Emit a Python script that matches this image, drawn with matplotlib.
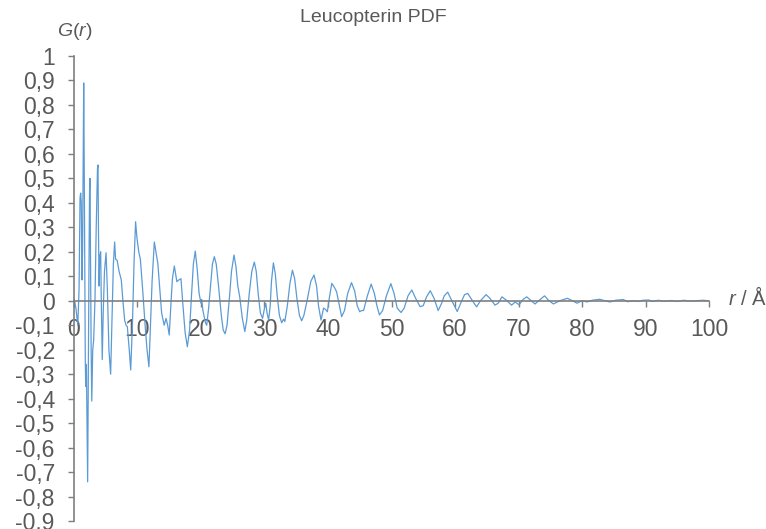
import numpy as np
import matplotlib
matplotlib.use("Agg")
import matplotlib.pyplot as plt
from matplotlib.ticker import FuncFormatter

plt.rcParams['font.family'] = ['Liberation Sans', 'DejaVu Sans']
plt.rcParams['mathtext.fontset'] = 'custom'
plt.rcParams['mathtext.rm'] = 'Liberation Sans'
plt.rcParams['mathtext.it'] = 'Liberation Sans:italic'

# r in Angstrom, G(r)
r_vals = [
    0.0, 0.3, 0.6, 0.8, 0.95, 1.05, 1.15, 1.25, 1.35, 1.45, 1.53, 1.6, 1.7, 1.78, 1.85,
    1.95, 2.05, 2.15, 2.25, 2.35, 2.45, 2.52, 2.6, 2.7, 2.8, 2.95, 3.1, 3.3, 3.5, 3.7,
    3.78, 3.85, 3.95, 4.05, 4.2, 4.3, 4.45, 4.6, 4.8, 5.05, 5.25, 5.5, 5.77, 6.0, 6.2,
    6.4, 6.55, 6.8, 7.1, 7.45, 7.7, 7.98, 8.2, 8.4, 8.7, 8.93, 9.2, 9.45, 9.7, 9.9,
    10.2, 10.45, 10.8, 11.2, 11.5, 11.8, 12.05, 12.3, 12.65, 12.9, 13.2, 13.5, 13.8, 14.2, 14.5,
    14.75, 15.0, 15.25, 15.5, 15.8, 16.0, 16.2, 16.5, 16.85, 17.1, 17.5, 17.85, 18.2, 18.5, 18.8,
    19.1, 19.4, 19.7, 20.0, 20.1, 20.3, 20.7, 20.9, 21.2, 21.5, 21.8, 22.1, 22.4, 22.8, 23.2,
    23.5, 23.8, 24.1, 24.5, 24.8, 25.2, 25.5, 25.8, 26.1, 26.5, 26.9, 27.2, 27.6, 28.0, 28.4,
    28.7, 29.0, 29.35, 29.7, 30.0, 30.2, 30.4, 30.65, 30.9, 31.1, 31.4, 31.7, 32.0, 32.35, 32.7,
    33.0, 33.2, 33.6, 34.0, 34.4, 34.75, 35.1, 35.5, 35.85, 36.2, 36.7, 37.3, 37.8, 38.2, 38.5,
    38.9, 39.3, 39.6, 39.9, 40.2, 40.6, 41.0, 41.35, 41.8, 42.15, 42.6, 43.1, 43.7, 44.2, 44.6,
    45.0, 45.3, 45.6, 46.2, 46.8, 47.3, 47.7, 48.1, 48.6, 49.2, 49.9, 50.4, 50.9, 51.5, 52.0,
    52.6, 53.2, 53.8, 54.5, 55.0, 55.5, 56.1, 56.7, 57.35, 57.9, 58.3, 58.85, 59.5, 60.35, 60.9,
    61.5, 62.0, 62.5, 63.0, 63.4, 64.0, 64.9, 65.5, 66.3, 66.8, 67.4, 68.2, 68.9, 69.5, 70.1,
    70.7, 71.3, 72.0, 72.6, 73.4, 74.1, 74.8, 75.5, 76.5, 77.7, 78.5, 79.2, 80.0, 80.8, 81.6,
    82.8, 83.6, 84.4, 85.3, 86.5, 87.2, 88.0, 88.8, 89.6, 90.5, 91.2, 92.0, 93.0, 94.0, 95.0,
    96.0, 97.0, 98.0, 99.0, 100.0,
]
g_vals = [
    0.01, -0.03, -0.1, 0.05, 0.42, 0.44, 0.40, 0.085, 0.2, 0.6, 0.89, 0.6, 0.1, -0.25, -0.35,
    -0.26, -0.5, -0.74, -0.3, 0.1, 0.45, 0.50, 0.2, -0.2, -0.41, -0.2, -0.16, 0.0, 0.3, 0.54,
    0.555, 0.3, 0.06, 0.18, 0.2, 0.0, -0.24, -0.05, 0.12, 0.196, 0.05, -0.2, -0.30, -0.05, 0.15,
    0.24, 0.17, 0.165, 0.12, 0.085, 0.0, -0.08, -0.1, -0.106, -0.2, -0.283, -0.1, 0.15, 0.323, 0.26,
    0.2, 0.17, 0.05, -0.1, -0.2, -0.27, -0.1, 0.08, 0.24, 0.2, 0.153, 0.05, -0.05, -0.1, -0.072,
    -0.1, -0.14, -0.02, 0.09, 0.142, 0.11, 0.078, 0.085, 0.09, 0.0, -0.13, -0.188, -0.12, 0.02, 0.15,
    0.203, 0.13, 0.03, -0.01, 0.005, -0.04, -0.09, -0.1, -0.03, 0.06, 0.15, 0.18, 0.15, 0.05, -0.06,
    -0.12, -0.135, -0.1, 0.02, 0.12, 0.187, 0.14, 0.06, 0.016, -0.07, -0.126, -0.08, 0.03, 0.12, 0.158,
    0.12, 0.03, -0.05, -0.072, -0.03, -0.01, -0.05, -0.079, -0.02, 0.08, 0.155, 0.11, 0.02, -0.06, -0.09,
    -0.075, -0.085, -0.02, 0.07, 0.125, 0.09, 0.01, -0.06, -0.082, -0.06, 0.0, 0.08, 0.105, 0.06, -0.02,
    -0.079, -0.03, -0.035, -0.045, 0.01, 0.071, 0.055, 0.037, -0.02, -0.065, -0.04, 0.03, 0.074, 0.04, -0.02,
    -0.045, -0.04, -0.04, 0.02, 0.068, 0.03, -0.02, -0.058, -0.04, 0.02, 0.07, 0.03, -0.03, -0.048, -0.03,
    0.02, 0.044, 0.01, -0.024, -0.02, 0.015, 0.041, 0.01, -0.04, -0.01, 0.02, 0.035, 0.0, -0.044, -0.01,
    0.025, 0.03, 0.01, -0.01, -0.025, 0.0, 0.025, 0.01, -0.018, -0.01, 0.016, 0.0, -0.018, -0.005, -0.017,
    0.005, 0.016, 0.0, -0.013, 0.005, 0.02, 0.0, -0.013, 0.0, 0.01, 0.0, -0.01, 0.0, -0.005, 0.002,
    0.006, 0.0, -0.005, 0.002, 0.005, -0.004, 0.0, -0.003, 0.002, 0.003, -0.003, 0.002, -0.002, 0.001, -0.003,
    0.002, -0.001, 0.0, 0.002, 0.0,
]

x_ticks = np.arange(0, 101, 10)
y_ticks = np.round(np.arange(-0.9, 1.01, 0.1), 1)

txt = '#595959'
axis_col = '#7f7f7f'


def comma_fmt(v, pos):
    v = round(v, 1) + 0.0
    if v == 0:
        return '0'
    return ('%g' % v).replace('.', ',')


fig = plt.figure(figsize=(7.66, 5.29), dpi=100)
ax = fig.add_axes([0.0966, 0.0151, 0.829, 0.879])

ax.plot(r_vals, g_vals, color='#5b9bd5', lw=0.9)

ax.set_xlim(0, 100)
ax.set_ylim(-0.9, 1.0)
ax.set_xticks(x_ticks)
ax.set_yticks(y_ticks)
ax.yaxis.set_major_formatter(FuncFormatter(comma_fmt))

ax.spines['top'].set_visible(False)
ax.spines['right'].set_visible(False)
ax.spines['bottom'].set_position(('data', 0))
for s in ('left', 'bottom'):
    ax.spines[s].set_color(axis_col)
    ax.spines[s].set_linewidth(1.2)
ax.tick_params(axis='both', colors=axis_col, labelcolor=txt, labelsize=16.5, length=4.3, width=1.0)
ax.tick_params(axis='x', pad=8)
ax.tick_params(axis='y', pad=9.5)

fig.text(0.487, 0.966, 'Leucopterin PDF', ha='center', va='center', fontsize=14, color=txt)
fig.text(0.098, 0.94, r'$G$($r$)', ha='center', va='center', fontsize=14, color=txt)
fig.text(0.951, 0.437, r'$r$ / Å', ha='left', va='center', fontsize=14.5, color=txt)

fig.savefig('out.png', dpi=100)
